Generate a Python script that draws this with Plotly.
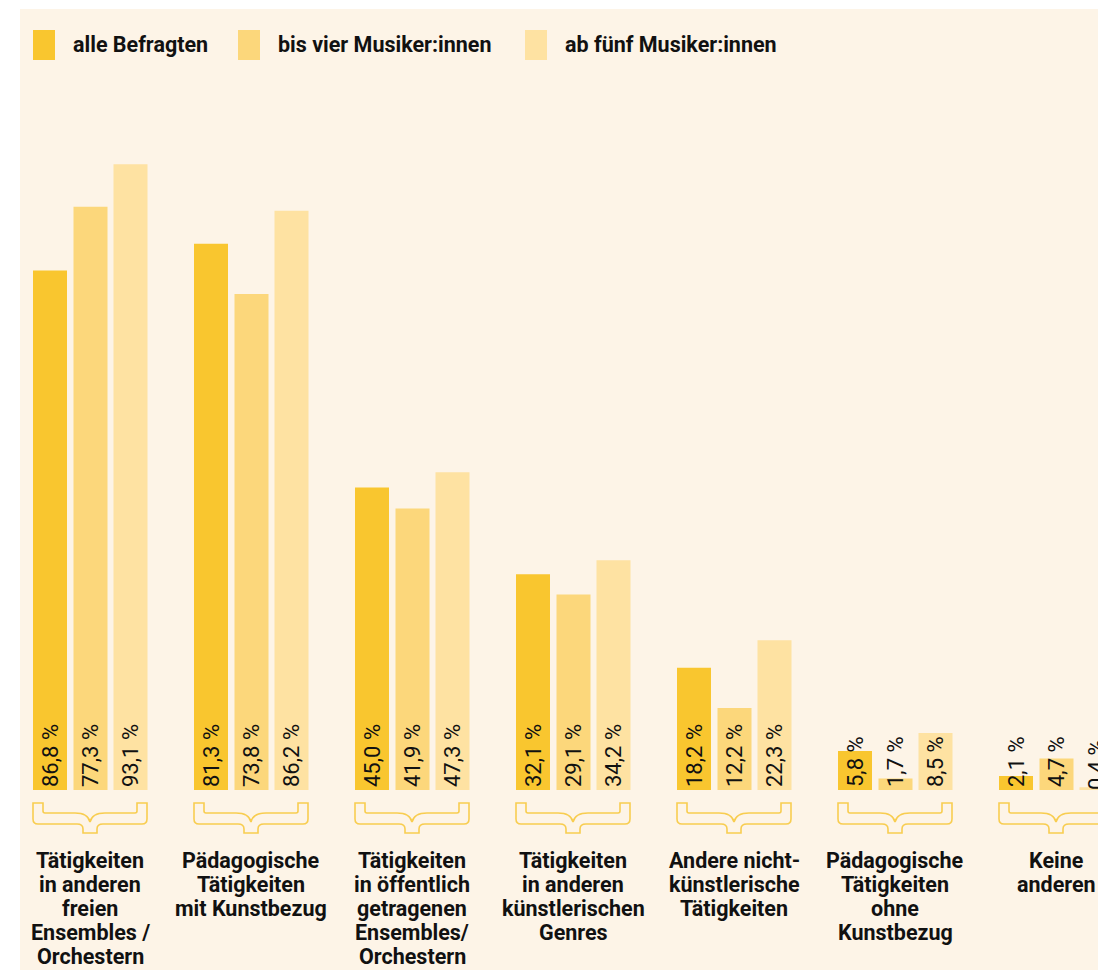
import plotly.graph_objects as go

# ---------------- data ----------------
category_lines = [
    ["Tätigkeiten", "in anderen", "freien", "Ensembles /", "Orchestern"],
    ["Pädagogische", "Tätigkeiten", "mit Kunstbezug"],
    ["Tätigkeiten", "in öffentlich", "getragenen", "Ensembles/", "Orchestern"],
    ["Tätigkeiten", "in anderen", "künstlerischen", "Genres"],
    ["Andere nicht-", "künstlerische", "Tätigkeiten"],
    ["Pädagogische", "Tätigkeiten", "ohne", "Kunstbezug"],
    ["Keine", "anderen"],
]
series_names = ["alle Befragten", "bis vier Musiker:innen", "ab fünf Musiker:innen"]

# printed percentages
alle = [86.8, 81.3, 45.0, 32.1, 18.2, 5.8, 2.1]
bis_vier = [77.3, 73.8, 41.9, 29.1, 12.2, 1.7, 4.7]
ab_fuenf = [93.1, 86.2, 47.3, 34.2, 22.3, 8.5, 0.4]

# drawn bar heights (in the original graphic the first two bars of the
# first group are drawn with each other's height)
alle_heights = [77.3, 81.3, 45.0, 32.1, 18.2, 5.8, 2.1]
bis_vier_heights = [86.8, 73.8, 41.9, 29.1, 12.2, 1.7, 4.7]
ab_fuenf_heights = [93.1, 86.2, 47.3, 34.2, 22.3, 8.5, 0.4]

# ---------------- styling ----------------
colors = ["#F9C62F", "#FCD77B", "#FEE2A2"]
BG = "#FDF4E7"
FONT = "Roboto"

W, H = 1106, 971
OFF = 8                      # page body margin
# plot area in page pixels
PX_L, PX_R, PX_T, PX_B = 20, 1114, 9, 970
PITCH = 161.0          # px per category
FIRST_CENTER = 90.0    # px of first category centre
BASE_PX = 790.0        # px of value 0
YS = 6.72              # px per percentage point

x0 = -(FIRST_CENTER - PX_L) / PITCH
x1 = x0 + (PX_R - PX_L) / PITCH
y_top = (BASE_PX - PX_T) / YS
y_bot = (BASE_PX - PX_B) / YS


def dx(px):
    return px / PITCH


def ypx(py):
    return (BASE_PX - py) / YS


def fmt(v):
    return f"{v:.1f}".replace(".", ",") + " %"


n = len(alle)
idx = list(range(n))
offsets_px = [-40, 0.5, 40.5]
bar_w = dx(34)

fig = go.Figure()
for s, (name, vals, heights) in enumerate(zip(
        series_names,
        [alle, bis_vier, ab_fuenf],
        [alle_heights, bis_vier_heights, ab_fuenf_heights])):
    fig.add_trace(go.Bar(
        name=name,
        x=[i + dx(offsets_px[s]) for i in idx],
        y=heights,
        width=bar_w,
        marker=dict(color=colors[s], line=dict(width=0)),
        text=[fmt(v) for v in vals],
        textposition="inside",
        insidetextanchor="start",
        textangle=-90,
        constraintext="none",
        insidetextfont=dict(family=FONT, size=22, color="#111111"),
        showlegend=False,
        hoverinfo="skip",
    ))

shapes = []
annotations = []


# curly braces under each group
def brace_path(c):
    def P(px_off, py):
        return f"{c + dx(px_off):.5f},{ypx(py):.5f}"
    parts = [
        "M" + P(-57, 803),
        "L" + P(-57, 819), "Q" + P(-57, 824) + " " + P(-52, 824),
        "L" + P(-13, 824), "Q" + P(-7, 824) + " " + P(-7, 829),
        "L" + P(-7, 833), "L" + P(7, 833), "L" + P(7, 829),
        "Q" + P(7, 824) + " " + P(13, 824),
        "L" + P(52, 824), "Q" + P(57, 824) + " " + P(57, 819),
        "L" + P(57, 803), "L" + P(47, 803), "L" + P(47, 811),
        "Q" + P(47, 813) + " " + P(45, 813),
        "L" + P(15, 813), "Q" + P(2, 813) + " " + P(0, 822),
        "Q" + P(-2, 813) + " " + P(-15, 813),
        "L" + P(-45, 813), "Q" + P(-47, 813) + " " + P(-47, 811),
        "L" + P(-47, 803), "Z",
    ]
    return " ".join(parts)


for i in idx:
    shapes.append(dict(type="path", xref="x", yref="y", path=brace_path(i),
                       line=dict(color="#F8CD50", width=1.6), fillcolor=BG,
                       layer="above"))
    for k, line in enumerate(category_lines[i]):
        annotations.append(dict(
            x=i, y=ypx(860 + 24 * k), xref="x", yref="y",
            text=line, showarrow=False, xanchor="center", yanchor="middle",
            font=dict(family=FONT, size=21.5, color="#111111", weight="bold"),
        ))


def px_to_paper_x(px):
    return (px - PX_L) / (PX_R - PX_L)


def px_to_paper_y(py):
    return 1 - (py - PX_T) / (PX_B - PX_T)


# legend (manual)
legend_x = [33, 238, 525]
for s, name in enumerate(series_names):
    lx = legend_x[s]
    shapes.append(dict(type="rect", xref="paper", yref="paper",
                       x0=px_to_paper_x(lx), x1=px_to_paper_x(lx + 22),
                       y0=px_to_paper_y(60), y1=px_to_paper_y(30),
                       fillcolor=colors[s], line=dict(width=0)))
    annotations.append(dict(
        x=px_to_paper_x(lx + 38), y=px_to_paper_y(45),
        xref="paper", yref="paper", text=name, showarrow=False,
        xanchor="left", yanchor="middle",
        font=dict(family=FONT, size=21.5, color="#111111", weight="bold"),
    ))

fig.update_layout(
    width=W, height=H,
    margin=dict(l=PX_L - OFF, r=W - (PX_R - OFF), t=PX_T - OFF,
                b=H - (PX_B - OFF), pad=0),
    paper_bgcolor="white",
    plot_bgcolor=BG,
    barmode="overlay",
    xaxis=dict(range=[x0, x1], visible=False, fixedrange=True),
    yaxis=dict(range=[y_bot, y_top], visible=False, fixedrange=True),
    shapes=shapes,
    annotations=annotations,
    showlegend=False,
)

fig.write_html("out.html")
